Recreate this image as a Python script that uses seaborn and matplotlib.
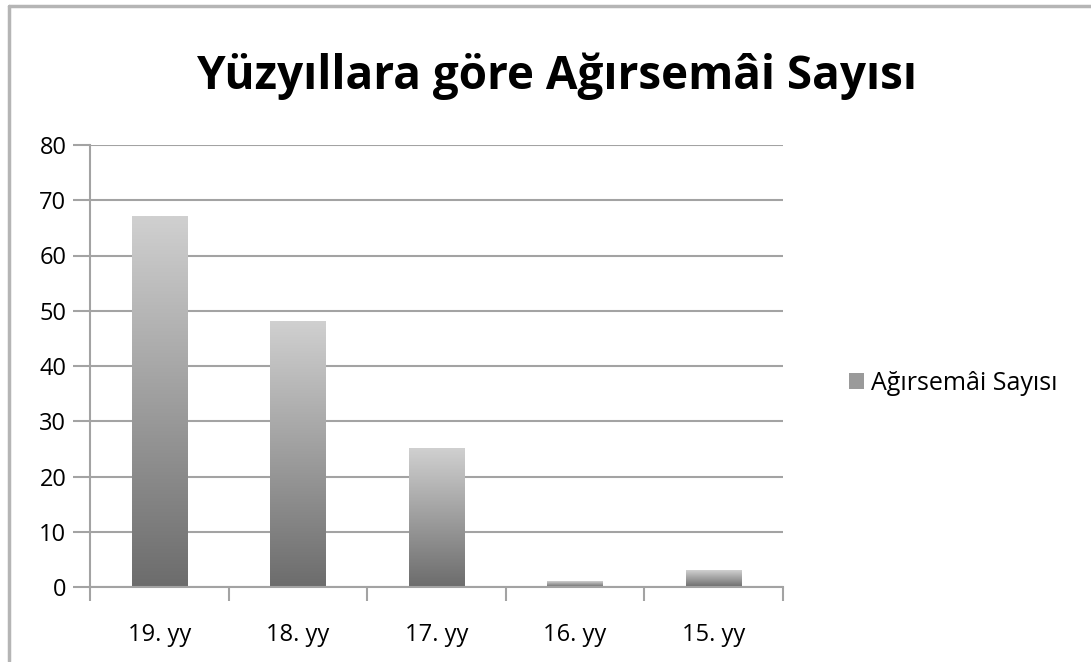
import numpy as np
import pandas as pd
import matplotlib
matplotlib.use("Agg")
import matplotlib.pyplot as plt
from matplotlib.colors import LinearSegmentedColormap
from matplotlib.patches import Rectangle
from matplotlib.lines import Line2D
import seaborn as sns

categories = ["19. yy", "18. yy", "17. yy", "16. yy", "15. yy"]
values = [67, 48, 25, 1, 3]
series_name = "Ağırsemâi Sayısı"
title = "Yüzyıllara göre Ağırsemâi Sayısı"
yticks = [0, 10, 20, 30, 40, 50, 60, 70, 80]

sns.set_theme(style="white")
plt.rcParams["font.family"] = ["Open Sans", "DejaVu Sans"]
plt.rcParams["text.color"] = "black"
plt.rcParams["xtick.color"] = "black"
plt.rcParams["ytick.color"] = "black"

df = pd.DataFrame({"cat": categories, "val": values})

fig = plt.figure(figsize=(10.91, 6.62), dpi=100)
ax = fig.add_axes([90/1091, 1-587/662, (783-90)/1091, (587-145)/662])

sns.barplot(data=df, x="cat", y="val", ax=ax, width=0.4, color="#999999",
            edgecolor="none", zorder=3)

cmap = LinearSegmentedColormap.from_list("g", ["#6c6c6c", "#d0d0d0"])
grad = np.linspace(0, 1, 256).reshape(-1, 1)
for p in ax.patches:
    x0, y0 = p.get_x(), p.get_y()
    w, h = p.get_width(), p.get_height()
    p.set_facecolor("none")
    ax.imshow(grad, cmap=cmap, origin="lower", aspect="auto",
              extent=[x0, x0 + w, y0, y0 + h], zorder=3, interpolation="bilinear")

ax.set_xlim(-0.5, len(categories) - 0.5)
ax.set_ylim(0, 80)
ax.set_yticks(yticks)
ax.set_yticklabels([str(t) for t in yticks], fontsize=17)
ax.set_xlabel("")
ax.set_ylabel("")

grid_c = "#a3a3a3"
ax.yaxis.grid(True, color=grid_c, linewidth=1.5, zorder=1)
ax.set_axisbelow(True)
for s in ["top", "right"]:
    ax.spines[s].set_visible(False)
for s in ["left", "bottom"]:
    ax.spines[s].set_color(grid_c)
    ax.spines[s].set_linewidth(1.5)
    ax.spines[s].set_zorder(4)

ax.tick_params(axis="y", which="major", length=12, width=1.5, color=grid_c,
               left=True, pad=5, labelsize=17, labelcolor="black")
ax.set_xticks(range(len(categories)))
ax.set_xticklabels(categories, fontsize=17)
ax.tick_params(axis="x", which="major", length=0, pad=26, labelsize=17, labelcolor="black")
ax.set_xticks(np.arange(-0.5, len(categories), 1.0), minor=True)
ax.tick_params(axis="x", which="minor", length=10, width=1.5, color=grid_c, bottom=True)

fig.text(557/1091, 1-76/662, title, ha="center", va="center",
         fontsize=33, fontweight="bold", color="black")

# legend
handle = Rectangle((0, 0), 1, 1, facecolor="#9a9a9a", edgecolor="none")
fig.legend([handle], [series_name], loc="center left",
           bbox_to_anchor=(836/1091, 1-383/662), frameon=False, fontsize=18,
           handlelength=0.6, handleheight=0.6, handletextpad=0.3, borderpad=0,
           labelcolor="black")

# chart frame
fig.add_artist(Line2D([9/1091, 9/1091], [1-661/662, 1-6/662], transform=fig.transFigure,
                      color="#b5b5b5", linewidth=2.5))
fig.add_artist(Line2D([9/1091, 1.0], [1-6/662, 1-6/662], transform=fig.transFigure,
                      color="#b5b5b5", linewidth=2.5))

fig.savefig("out.png", dpi=100)
